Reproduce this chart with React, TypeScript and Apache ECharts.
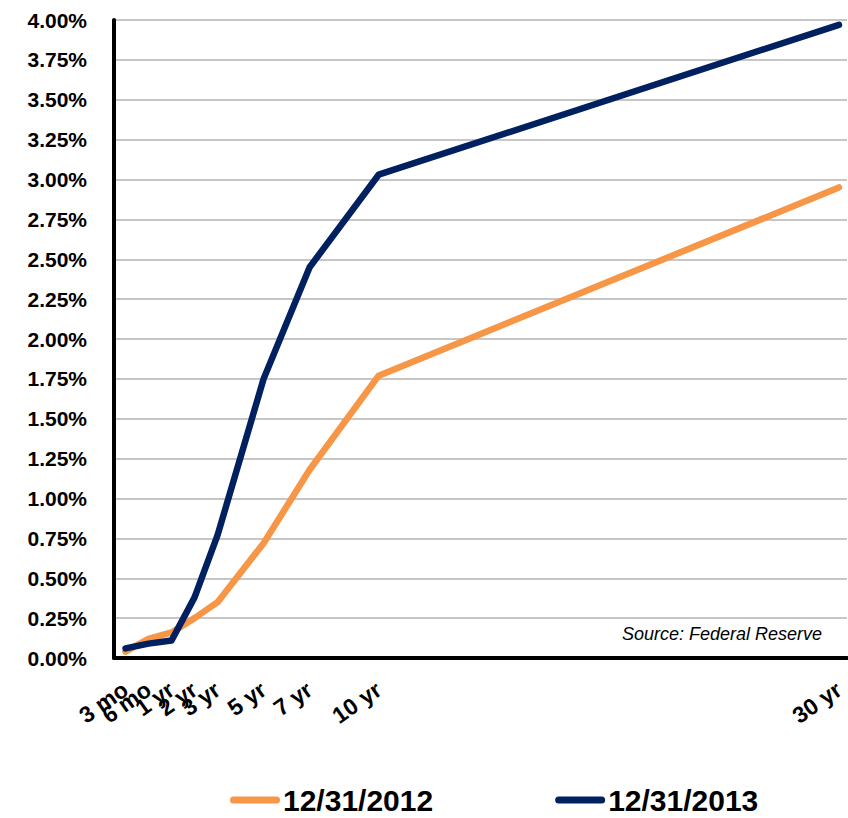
import React, { useEffect, useRef } from "react";
import * as echarts from "echarts";

const maturityLabels = ["3 mo", "6 mo", "1 yr", "2 yr", "3 yr", "5 yr", "7 yr", "10 yr", "30 yr"];
const maturityPositions = [0, 1, 2, 3, 4, 6, 8, 11, 31];
const yields2012 = [0.04, 0.12, 0.16, 0.25, 0.35, 0.72, 1.18, 1.77, 2.95];
const yields2013 = [0.06, 0.09, 0.11, 0.38, 0.77, 1.75, 2.45, 3.03, 3.97];
const seriesNames = ["12/31/2012", "12/31/2013"];
const seriesColors = ["#F79646", "#002060"];
const sourceText = "Source: Federal Reserve";

const FONT = '"Liberation Sans", Arial, sans-serif';
const X_MIN = -0.5;
const X_MAX = 31.35;

export default function App() {
  const ref = useRef<HTMLDivElement>(null);
  useEffect(() => {
    if (!ref.current) return;
    const chart = echarts.init(ref.current, undefined, { renderer: "svg" });
    const toPairs = (vals: number[]) => vals.map((v, i) => [maturityPositions[i], v]);
    const labelFor = (v: number) => {
      const i = maturityPositions.indexOf(v);
      return i >= 0 ? maturityLabels[i] : "";
    };
    // split labels over three stacked bottom axes so neighbouring labels are never auto-hidden
    const groups = [0, 1, 2].map((k) => maturityPositions.filter((_, i) => i % 3 === k));
    const xAxes = groups.map((vals, k) => ({
      type: "value",
      position: "bottom",
      min: X_MIN,
      max: X_MAX,
      axisLine: { show: k === 0, onZero: false, lineStyle: { color: "#000", width: 4 } },
      axisTick: { show: false },
      splitLine: { show: false },
      axisLabel: {
        customValues: vals,
        formatter: (v: number) => labelFor(v),
        showMinLabel: true,
        showMaxLabel: true,
        hideOverlap: false,
        rotate: 35,
        margin: 29,
        fontSize: 23,
        fontWeight: "bold",
        color: "#000",
        fontFamily: FONT,
      },
    }));
    const capsule = "path://M3.5,0 H46.5 A3.5,3.5 0 0 1 46.5,7 H3.5 A3.5,3.5 0 0 1 3.5,0 Z";
    chart.setOption({
      animation: false,
      textStyle: { fontFamily: FONT },
      grid: { left: 114, right: 0, top: 20, bottom: 160, containLabel: false },
      xAxis: xAxes,
      yAxis: {
        type: "value",
        min: 0,
        max: 4,
        interval: 0.25,
        axisLine: { show: true, onZero: false, lineStyle: { color: "#000", width: 4 } },
        axisTick: { show: false },
        splitLine: { show: true, lineStyle: { color: "#b3b3b3", width: 1.5 } },
        axisLabel: {
          formatter: (v: number) => v.toFixed(2) + "%",
          margin: 27,
          fontSize: 21,
          fontWeight: "bold",
          color: "#000",
          fontFamily: FONT,
        },
      },
      legend: {
        left: 230,
        top: 785,
        padding: 0,
        itemWidth: 50,
        itemHeight: 7,
        itemGap: 122,
        textStyle: {
          fontSize: 30,
          lineHeight: 30,
          fontWeight: "bold",
          color: "#000",
          fontFamily: FONT,
          padding: [0, 0, 0, -2],
        },
        data: seriesNames.map((n) => ({ name: n, icon: capsule })),
      },
      graphic: [
        {
          type: "text",
          right: 26,
          top: 625,
          style: { text: sourceText, font: "italic 18px " + FONT, fill: "#000" },
        },
      ],
      series: [
        {
          name: seriesNames[0],
          type: "line",
          xAxisIndex: 0,
          data: toPairs(yields2012),
          symbol: "none",
          color: seriesColors[0],
          lineStyle: { width: 6.5, color: seriesColors[0], cap: "round", join: "round" },
        },
        {
          name: seriesNames[1],
          type: "line",
          xAxisIndex: 0,
          data: toPairs(yields2013),
          symbol: "none",
          color: seriesColors[1],
          lineStyle: { width: 6.5, color: seriesColors[1], cap: "round", join: "round" },
        },
      ],
    });
    return () => chart.dispose();
  }, []);
  return (
    <div
      ref={ref}
      style={{ position: "absolute", left: 0, top: 0, width: 848, height: 818, background: "#fff" }}
    />
  );
}
